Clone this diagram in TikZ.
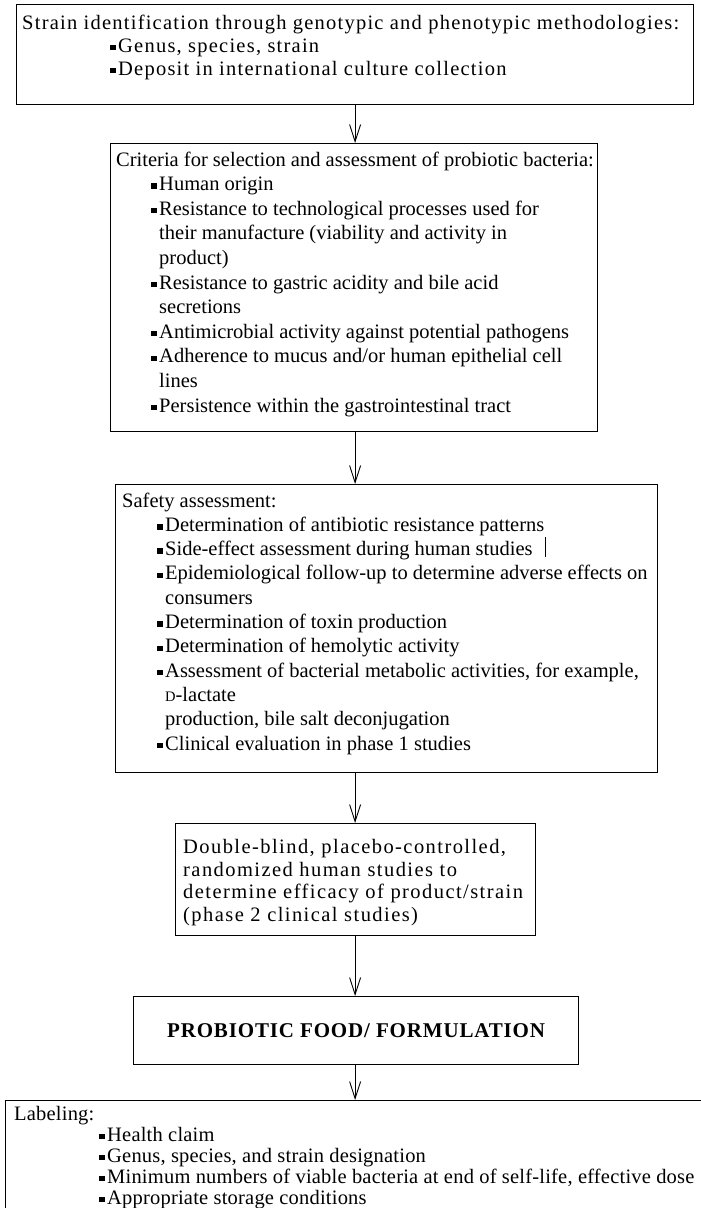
\documentclass[tikz,border=0pt]{standalone}
\usepackage{fontspec}
\setmainfont{Liberation Serif}
\newfontfamily\fwide{Liberation Serif}[LetterSpace=6]
\newfontfamily\fwider{Liberation Serif}[LetterSpace=7]
\newfontfamily\fmid{Liberation Serif}[LetterSpace=4]
\newfontfamily\fone{Liberation Serif}[LetterSpace=1]
\usetikzlibrary{arrows.meta}
\newcommand\bul{\rule[1.8pt]{5.5pt}{5.5pt}\hspace{2.5pt}}
\newcommand\fsz{\fontsize{20.5}{24}\selectfont}
\begin{document}
\begin{tikzpicture}[x=1pt,y=-1pt,
  box/.style={draw,line width=1.2pt,inner sep=0pt,anchor=north west},
  tw/.style={anchor=base west,inner sep=0pt,font=\fwide\fsz},
  tx/.style={anchor=base west,inner sep=0pt,font=\fwider\fsz},
  tn/.style={anchor=base west,inner sep=0pt,font=\rmfamily\fsz},
  tl/.style={anchor=base west,inner sep=0pt,font=\fone\fsz},
  arr/.style={line width=0.9pt,-{Straight Barb[length=17pt,width=11pt]}}]
\useasboundingbox (0,0) rectangle (701,1208);
% boxes
\node[box,minimum width=677pt,minimum height=100pt] (b1) at (16,4) {};
\node[box,minimum width=487pt,minimum height=288pt] (b2) at (110,143) {};
\node[box,minimum width=542pt,minimum height=288pt] (b3) at (115,484) {};
\node[box,minimum width=360pt,minimum height=112pt] (b4) at (175,823) {};
\node[box,minimum width=445pt,minimum height=68pt] (b5) at (133,996) {};
\node[box,minimum width=700pt,minimum height=150pt] (b6) at (5,1100) {};
% box 1
\node[tw] (a0) at (22,29) {Strain identification through genotypic and phenotypic methodologies:};
\node[tw] (a1) at (110,52) {\bul Genus, species, strain};
\node[tw] (a2) at (110,75) {\bul Deposit in international culture collection};
% box 2
\node[tn] (c0) at (116,166) {Criteria for selection and assessment of probiotic bacteria:};
\node[tn] (c1) at (151,190.6) {\bul Human origin};
\node[tn] (c2) at (151,215.2) {\bul Resistance to technological processes used for};
\node[tn] (c3) at (159,239.8) {their manufacture (viability and activity in};
\node[tn] (c4) at (159,264.4) {product)};
\node[tn] (c5) at (151,289) {\bul Resistance to gastric acidity and bile acid};
\node[tn] (c6) at (159,313.6) {secretions};
\node[tn] (c7) at (151,338.2) {\bul Antimicrobial activity against potential pathogens};
\node[tn] (c8) at (151,362.8) {\bul Adherence to mucus and/or human epithelial cell};
\node[tn] (c9) at (159,387.4) {lines};
\node[tn] (c10) at (151,412) {\bul Persistence within the gastrointestinal tract};
% box 3
\node[tn] (d0) at (122,507) {Safety assessment:};
\node[tn] (d1) at (157,531.3) {\bul Determination of antibiotic resistance patterns};
\node[tn] (d2) at (157,555.6) {\bul Side-effect assessment during human studies};
\node[tn] (d3) at (157,579.9) {\bul Epidemiological follow-up to determine adverse effects on};
\node[tn] (d4) at (165,604.2) {consumers};
\node[tn] (d5) at (157,628.5) {\bul Determination of toxin production};
\node[tn] (d6) at (157,652.8) {\bul Determination of hemolytic activity};
\node[tn] (d7) at (157,677.1) {\bul Assessment of bacterial metabolic activities, for example,};
\node[tn] (d8) at (165,701.4) {{\fontsize{14.5}{14.5}\selectfont D}-lactate};
\node[tn] (d9) at (165,725.7) {production, bile salt deconjugation};
\node[tn] (d10) at (157,750) {\bul Clinical evaluation in phase 1 studies};
\draw[line width=0.8pt] (545,537) -- (545,557);
% box 4
\node[tx] (e0) at (183,853) {Double-blind, placebo-controlled,};
\node[tx] (e1) at (183,876) {randomized human studies to};
\node[tx] (e2) at (183,898) {determine efficacy of product/strain};
\node[tx] (e3) at (183,921) {(phase 2 clinical studies)};
% box 5
\node[inner sep=0pt,font=\fmid\fontsize{21}{24}\selectfont\bfseries] (f0) at (b5.center) {PROBIOTIC FOOD/ FORMULATION};
% box 6
\node[tl] (g0) at (14,1120) {Labeling:};
\node[tl] (g1) at (99,1141) {\bul Health claim};
\node[tl] (g2) at (99,1162) {\bul Genus, species, and strain designation};
\node[tl] (g3) at (99,1183) {\bul Minimum numbers of viable bacteria at end of self-life, effective dose};
\node[tl] (g4) at (99,1204) {\bul Appropriate storage conditions};
% arrows
\draw[arr] (b1.south) -- (b1.south |- b2.north);
\draw[arr] (b1.south |- b2.south) -- (b1.south |- b3.north);
\draw[arr] (b1.south |- b3.south) -- (b1.south |- b4.north);
\draw[arr] (b1.south |- b4.south) -- (b1.south |- b5.north);
\draw[arr] (b1.south |- b5.south) -- (b1.south |- b6.north);
\end{tikzpicture}
\end{document}
